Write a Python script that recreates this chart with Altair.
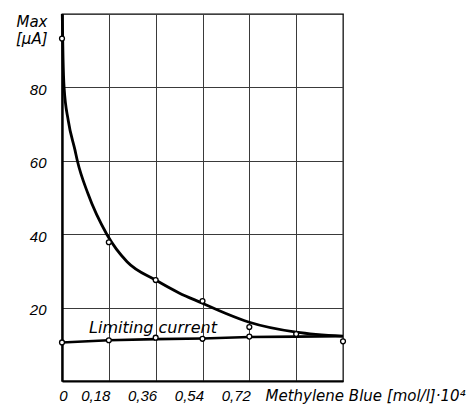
import altair as alt
import pandas as pd

# Axis ticks and labels
x_ticks = [0, 0.18, 0.36, 0.54, 0.72, 0.90, 1.08]
x_tick_labels = ["0", "0,18", "0,36", "0,54", "0,72", "", ""]
y_ticks = [20, 40, 60, 80]

# Measured maximum current (open circles on the upper curve)
max_x = [0, 0.18, 0.36, 0.54, 0.72, 0.90, 1.08]
max_y = [93.3, 37.8, 27.5, 21.8, 14.7, 12.8, 10.8]

# Measured limiting current (open circles on the lower line)
lim_x = [0, 0.18, 0.36, 0.54, 0.72]
lim_y = [10.5, 11.1, 11.8, 11.5, 12.1]

# Smoothed trace of the maximum-current curve
max_curve_x = [0.001, 0.004, 0.008, 0.024, 0.05, 0.059, 0.10, 0.172, 0.25,
               0.36, 0.45, 0.54, 0.63, 0.72, 0.90, 1.08]
max_curve_y = [100, 88, 80, 71, 62.9, 60, 51, 40, 32.5,
               27.5, 24, 21.2, 18.4, 16.0, 13.3, 12.2]

# Limiting-current line
lim_line_x = [0, 0.18, 0.36, 0.54, 0.72, 0.90, 1.08]
lim_line_y = [10.5, 11.1, 11.4, 11.6, 12.0, 12.1, 12.2]

label_text = "Limiting current"
label_x, label_y = 0.104, 13.1

curve_df = pd.DataFrame({"c": max_curve_x, "v": max_curve_y})
line_df = pd.DataFrame({"c": lim_line_x, "v": lim_line_y})
pts_df = pd.DataFrame({"c": max_x + lim_x, "v": max_y + lim_y})
label_df = pd.DataFrame({"c": [label_x], "v": [label_y], "t": [label_text]})

label_lookup = "[" + ",".join("'%s'" % s for s in x_tick_labels) + "]"

x_scale = alt.Scale(domain=[0, 1.08], nice=False, zero=True)
y_scale = alt.Scale(domain=[0, 100], nice=False, zero=True)

x_axis = alt.Axis(
    values=x_ticks,
    labelExpr=label_lookup + "[round(datum.value / 0.18)]",
    title="Methylene Blue [mol/l]·10⁴",
    titleX=203, titleY=19, titleAlign="left", titleAnchor="start",
    titleBaseline="alphabetic", titleFont="DejaVu Sans", titleFontStyle="italic",
    titleFontSize=15, titleFontWeight="normal", titleColor="#000",
    labelFont="Liberation Sans", labelFontStyle="italic", labelFontSize=15,
    labelColor="#000", labelBaseline="alphabetic", labelPadding=19,
    labelAlign={"condition": {"test": "datum.value == 0", "value": "center"}, "value": "right"},
    labelOffset=1,
    ticks=False, tickSize=0,
    grid=True, gridColor="#3a3a3a", gridWidth=1,
    domainColor="#000", domainWidth=2,
    labelOverlap=False,
)

y_axis = alt.Axis(
    values=y_ticks,
    title=["Max", "[μA]"],
    titleAngle=0, titleX=-15, titleY=0, titleAlign="right",
    titleBaseline="top", titleLineHeight=17,
    titleFont="DejaVu Sans", titleFontStyle="italic", titleFontSize=15,
    titleFontWeight="normal", titleColor="#000",
    labelFont="Liberation Sans", labelFontStyle="italic", labelFontSize=15,
    labelColor="#000", labelPadding=16, labelBaseline="middle", labelOffset=2,
    ticks=False, tickSize=0,
    grid=True, gridColor="#3a3a3a", gridWidth=1,
    domainColor="#000", domainWidth=2.4,
)

base_x = alt.X("c:Q", scale=x_scale, axis=x_axis)
base_y = alt.Y("v:Q", scale=y_scale, axis=y_axis)

max_curve = alt.Chart(curve_df).mark_line(
    color="#000", strokeWidth=2.8, interpolate="monotone"
).encode(x=base_x, y=base_y, order="c:Q")

lim_line = alt.Chart(line_df).mark_line(
    color="#000", strokeWidth=2.6
).encode(x=alt.X("c:Q", scale=x_scale), y=alt.Y("v:Q", scale=y_scale))

points = alt.Chart(pts_df).mark_point(
    shape="circle", filled=True, fill="white", stroke="#000",
    strokeWidth=1.3, size=24, opacity=1
).encode(x=alt.X("c:Q", scale=x_scale), y=alt.Y("v:Q", scale=y_scale))

label = alt.Chart(label_df).mark_text(
    font="DejaVu Sans", fontStyle="italic", fontSize=16, align="left",
    baseline="alphabetic", color="#000"
).encode(x=alt.X("c:Q", scale=x_scale), y=alt.Y("v:Q", scale=y_scale), text="t:N")

chart = alt.layer(max_curve, lim_line, points, label).properties(
    width=281, height=367,
    autosize=alt.AutoSizeParams(type="none"),
    padding={"left": 62, "top": 14, "right": 128, "bottom": 28},
    background="white",
).configure_view(stroke="#000", strokeWidth=1.3)

chart.save("out.html", embed_options={"renderer": "svg", "actions": False})
